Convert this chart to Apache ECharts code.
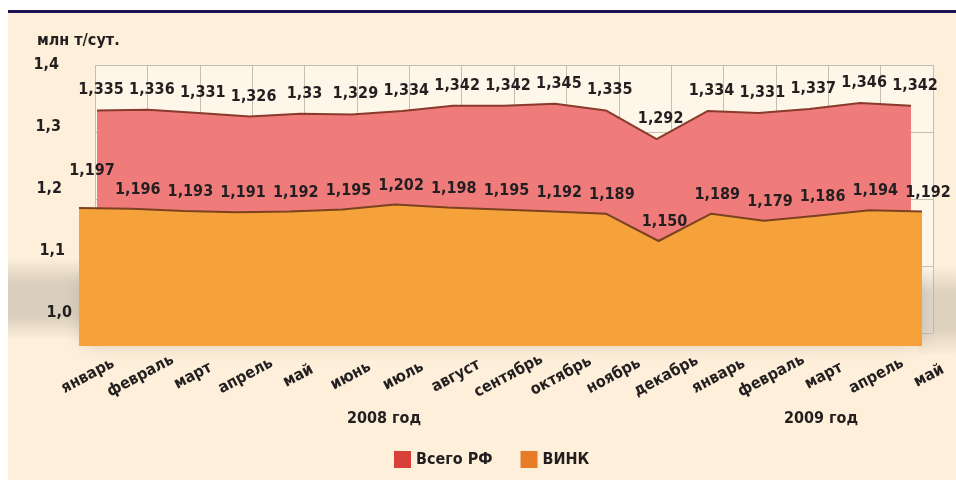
<!DOCTYPE html>
<html>
<head>
<meta charset="utf-8">
<script src="https://cdn.jsdelivr.net/npm/echarts@6/dist/echarts.min.js"></script>
<style>
html,body{margin:0;padding:0;background:#ffffff;}
#chart{width:956px;height:480px;}
</style>
</head>
<body>
<div id="chart"></div>
<script>
// ---- data ----
var months = ['январь','февраль','март','апрель','май','июнь','июль','август','сентябрь','октябрь','ноябрь','декабрь','январь','февраль','март','апрель','май'];
var totalRF = [1.335,1.336,1.331,1.326,1.33,1.329,1.334,1.342,1.342,1.345,1.335,1.292,1.334,1.331,1.337,1.346,1.342];
var vink = [1.197,1.196,1.193,1.191,1.192,1.195,1.202,1.198,1.195,1.192,1.189,1.150,1.189,1.179,1.186,1.194,1.192];
var seriesNames = ['Всего РФ','ВИНК'];
var yearLabels = ['2008 год','2009 год'];
var unitLabel = 'млн т/сут.';
var yMin = 1.0, yMax = 1.4, yStep = 0.1;

var FONT = "'Liberation Sans Narrow','DejaVu Sans Condensed','Arial Narrow',sans-serif";
var TXT = '#231f20';
var idx = months.map(function(_, i){ return String(i); });

var chart = echarts.init(document.getElementById('chart'), null, {renderer:'canvas'});

function hiddenX(gi){ return {type:'category', gridIndex:gi, data:idx, boundaryGap:false, show:false}; }
function hiddenY(gi){ return {type:'value', gridIndex:gi, min:yMin, max:yMax, interval:yStep, show:false}; }

var vinkData = vink.map(function(v, i){
  if (i === 0) return {value:v, label:{offset:[13,-18]}};
  return v;
});

// perspective shift of the y tick labels (right padding per tick)
var yPad = {'1,4':13,'1,3':11,'1,2':10,'1,1':7,'1,0':0};
var yRich = {};
Object.keys(yPad).forEach(function(k, i){
  yRich['p' + i] = {padding:[0, yPad[k], 0, 0], fontFamily:FONT, fontWeight:'bold', fontSize:16, color:TXT};
});

function shade(a){
  return {type:'linear', x:0, y:0, x2:0, y2:1, colorStops:[
    {offset:0, color:'rgba(190,180,165,0)'},
    {offset:0.3, color:'rgba(190,180,165,' + a + ')'},
    {offset:0.7, color:'rgba(190,180,165,' + a + ')'},
    {offset:1, color:'rgba(190,180,165,0)'}]};
}

var option = {
  backgroundColor:'#fdefd9',
  animation:false,
  textStyle:{fontFamily:FONT},
  graphic:[
    {type:'rect', shape:{x:0,y:0,width:956,height:10}, style:{fill:'#ffffff'}, z:0},
    {type:'rect', shape:{x:0,y:0,width:8,height:480}, style:{fill:'#ffffff'}, z:0},
    {type:'rect', shape:{x:8,y:10,width:948,height:3}, style:{fill:'#1c1452'}, z:0},
    {type:'rect', shape:{x:8,y:258,width:72,height:82}, style:{fill:shade(0.55)}, z:-1},
    {type:'rect', shape:{x:918,y:266,width:38,height:90}, style:{fill:shade(0.5)}, z:1},
    {type:'rect', shape:{x:84,y:280,width:834,height:62}, style:{fill:'#f6a23b', shadowBlur:18, shadowColor:'rgba(90,80,70,0.3)'}, z:1},
    {type:'text', left:37, top:33, style:{text:unitLabel, font:'bold 16px '+FONT, fill:TXT}, z:10},
    {type:'text', x:384, y:419, style:{text:yearLabels[0], font:'bold 16px '+FONT, fill:TXT, align:'center', verticalAlign:'middle'}, z:10},
    {type:'text', x:821, y:419, style:{text:yearLabels[1], font:'bold 16px '+FONT, fill:TXT, align:'center', verticalAlign:'middle'}, z:10}
  ],
  legend:{
    left:389, top:446, itemWidth:17, itemHeight:17, itemGap:28, icon:'rect',
    textStyle:{fontFamily:FONT, fontWeight:'bold', fontSize:16, color:TXT},
    data:[{name:seriesNames[0], itemStyle:{color:'#d8413a'}},{name:seriesNames[1], itemStyle:{color:'#e87b26'}}]
  },
  grid:[
    {left:95, top:65, width:838, height:268, show:true, backgroundColor:'#fdf6e9', borderWidth:0},
    {left:97, top:67, width:814, height:267},
    {left:79, top:66, width:843, height:280},
    {left:88, top:66, width:841, height:280},
    {left:76, top:65, width:10, height:248, z:5}
  ],
  xAxis:[
    {type:'category', gridIndex:0, data:idx, boundaryGap:false, axisLine:{show:false}, axisTick:{show:false}, axisLabel:{show:false},
     splitLine:{show:true, lineStyle:{color:'#c4beb3', width:1}}},
    hiddenX(1), hiddenX(2),
    {type:'category', gridIndex:3, data:idx, boundaryGap:false, axisLine:{show:false}, axisTick:{show:false},
     axisLabel:{show:true, interval:0, rotate:28, align:'center', verticalAlign:'middle', margin:30,
       fontFamily:FONT, fontWeight:'bold', fontSize:16, color:TXT,
       formatter:function(v){ return months[+v]; }}},
    hiddenX(4)
  ],
  yAxis:[
    {type:'value', gridIndex:0, min:yMin, max:yMax, interval:yStep, axisLine:{show:false}, axisTick:{show:false}, axisLabel:{show:false},
     splitLine:{show:true, lineStyle:{color:'#c4beb3', width:1}}},
    hiddenY(1), hiddenY(2), hiddenY(3),
    {type:'value', gridIndex:4, z:5, min:yMin, max:yMax, interval:yStep, axisLine:{show:false}, axisTick:{show:false}, splitLine:{show:false},
     axisLabel:{show:true, margin:4, rich:yRich,
       formatter:function(v){
         var s = v.toFixed(1).replace('.', ',');
         var k = Object.keys(yPad).indexOf(s);
         return '{p' + k + '|' + s + '}';
       }}}
  ],
  series:[
    {name:seriesNames[0], type:'line', xAxisIndex:1, yAxisIndex:1, data:totalRF, symbol:'circle', symbolSize:0.1, showSymbol:true, z:3,
     itemStyle:{color:'#ef7b7b'},
     lineStyle:{color:'#8a3a2a', width:2},
     areaStyle:{color:'#ef7b7b', opacity:1},
     label:{show:true, position:'top', distance:12, offset:[4,0], fontFamily:FONT, fontWeight:'bold', fontSize:16, color:TXT,
       formatter:function(p){ return String(p.value).replace('.', ','); }}},
    {name:seriesNames[1], type:'line', xAxisIndex:2, yAxisIndex:2, data:vinkData, symbol:'circle', symbolSize:0.1, showSymbol:true, z:4,
     itemStyle:{color:'#f6a23b'},
     lineStyle:{color:'#7c4220', width:2},
     areaStyle:{color:'#f6a23b', opacity:1},
     label:{show:true, position:'top', distance:11, offset:[6,0], fontFamily:FONT, fontWeight:'bold', fontSize:16, color:TXT,
       formatter:function(p){ return (+p.value).toFixed(3).replace('.', ','); }}}
  ]
};
chart.setOption(option);
</script>
</body>
</html>
